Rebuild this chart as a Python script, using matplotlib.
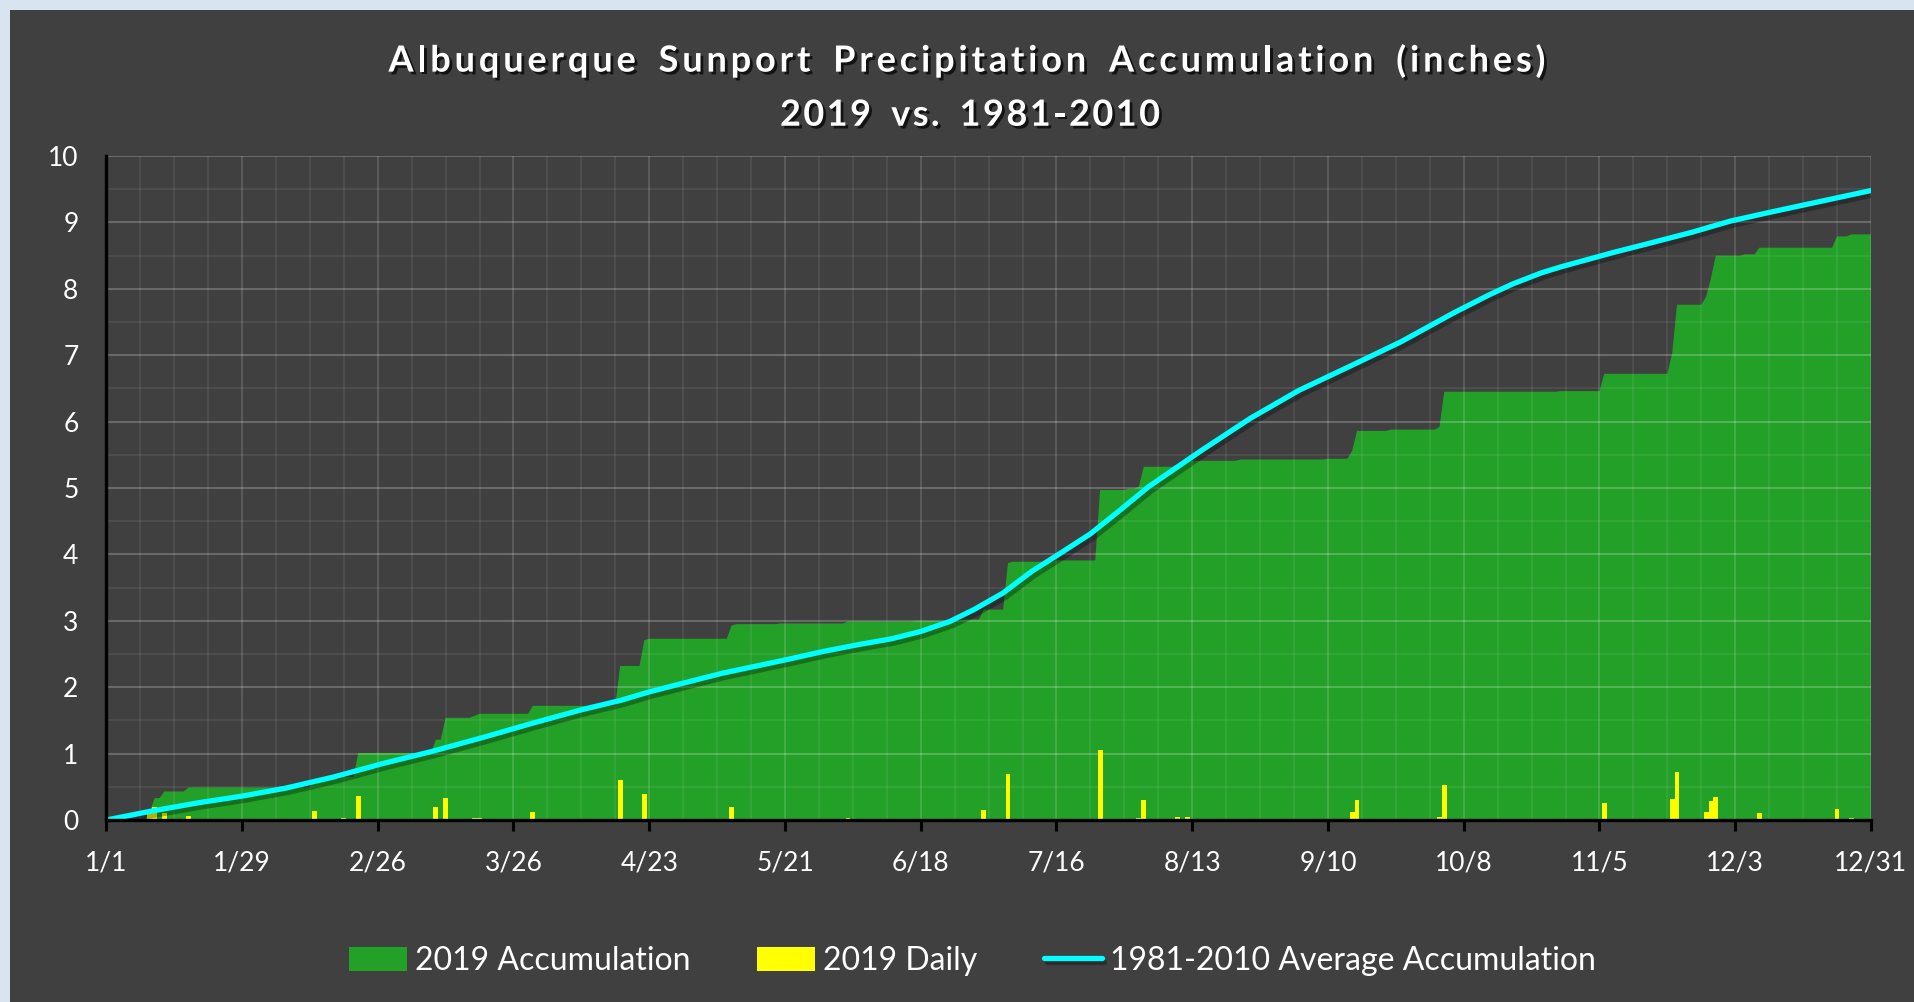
import numpy as np
import matplotlib
matplotlib.use("Agg")
import matplotlib.pyplot as plt
import matplotlib.patheffects as pe
from matplotlib.patches import Rectangle

plt.rcParams['font.family'] = ['Lato', 'DejaVu Sans']

# 2019 daily precipitation: day of year (1/1 = 0) and amount (inches)
rain_days = [0, 9, 10, 12, 17, 43, 49, 52, 68, 70, 76, 77, 88, 106, 111, 112,
             129, 130, 139, 153, 167, 177, 181, 186, 187, 196, 205, 211, 213,
             214, 221, 223, 234, 252, 257, 258, 265, 275, 276, 300, 309, 323,
             324, 330, 331, 332, 338, 341, 357, 360]
rain_amounts = [0.01, 0.12, 0.20, 0.10, 0.06, 0.13, 0.03, 0.36, 0.20, 0.33,
                0.03, 0.03, 0.12, 0.60, 0.39, 0.02, 0.20, 0.02, 0.01, 0.03,
                0.01, 0.02, 0.15, 0.70, 0.02, 0.02, 1.06, 0.02, 0.03, 0.30,
                0.04, 0.05, 0.02, 0.01, 0.12, 0.30, 0.02, 0.04, 0.53, 0.01,
                0.26, 0.31, 0.73, 0.12, 0.28, 0.34, 0.02, 0.10, 0.17, 0.03]

# 1981-2010 normal accumulation
normal_days = [0, 9, 19, 28, 37, 47, 57, 67, 78, 88, 98, 106, 112, 120, 127,
               140, 148, 155, 162, 168, 174, 179, 185, 191, 196, 203, 209, 215,
               226, 236, 246, 257, 267, 278, 285, 290, 296, 300, 305, 311, 318,
               327, 335, 343, 350, 364]
normal_accum = [0.0, 0.13, 0.26, 0.36, 0.48, 0.65, 0.85, 1.03, 1.25, 1.46,
                1.66, 1.80, 1.93, 2.08, 2.21, 2.41, 2.54, 2.64, 2.73, 2.84,
                2.99, 3.17, 3.42, 3.75, 3.98, 4.31, 4.66, 5.02, 5.57, 6.05,
                6.47, 6.85, 7.20, 7.64, 7.90, 8.07, 8.24, 8.33, 8.43, 8.55,
                8.68, 8.85, 9.02, 9.15, 9.26, 9.48]

tick_days = list(range(0, 365, 28))
tick_labels = ['1/1', '1/29', '2/26', '3/26', '4/23', '5/21', '6/18', '7/16',
               '8/13', '9/10', '10/8', '11/5', '12/3', '12/31']

title1 = 'Albuquerque Sunport Precipitation Accumulation (inches)'
title2 = '2019 vs. 1981-2010'

days = np.arange(365)
daily = np.zeros(365)
daily[rain_days] = rain_amounts
accum = np.cumsum(daily)

W, H = 1914, 1002
fig = plt.figure(figsize=(W / 100, H / 100), dpi=100, facecolor='#d9e4f1')
fig.add_artist(Rectangle((10 / W, 0), 1, 1 - 10 / H, transform=fig.transFigure,
                         facecolor='#404040', edgecolor='none', zorder=0))
ax = fig.add_axes([0.0555, 0.1816, 0.922, 0.6627])
ax.set_facecolor('#404040')

area = ax.fill_between(days, 0, accum, color='#23a027', lw=0, zorder=1)
area.set_path_effects([pe.SimplePatchShadow(offset=(3, -3), alpha=0.4), pe.Normal()])
bars = ax.bar(rain_days, rain_amounts, width=1.0, color='#ffff00', zorder=2)
line, = ax.plot(normal_days, normal_accum, color='#00ffff', lw=3.8, zorder=3,
                solid_capstyle='round', solid_joinstyle='round')
line.set_path_effects([pe.SimpleLineShadow(offset=(2, -3), alpha=0.3), pe.Normal()])

ax.set_xlim(0, 364)
ax.set_ylim(0, 10)
ax.set_xticks(tick_days)
ax.set_xticklabels(tick_labels)
ax.set_xticks(range(0, 365, 7), minor=True)
ax.set_yticks(range(0, 11))
ax.set_yticks(np.arange(0.5, 10, 1), minor=True)
ax.set_axisbelow('line')
ax.grid(which='major', axis='y', color='white', alpha=0.22, lw=1.5)
ax.grid(which='minor', axis='y', color='white', alpha=0.07, lw=1.5)
ax.grid(which='major', axis='x', color='white', alpha=0.14, lw=1.5)
ax.grid(which='minor', axis='x', color='white', alpha=0.07, lw=1.5)
ax.tick_params(which='minor', length=0)
ax.tick_params(axis='y', length=0, pad=20, labelsize=19, labelcolor='white')
ax.tick_params(axis='x', which='major', length=8, width=2.2, color='black',
               pad=14, labelsize=19, labelcolor='white')
for s in ['top', 'right']:
    ax.spines[s].set_visible(False)
for s in ['left', 'bottom']:
    ax.spines[s].set_color('black')
    ax.spines[s].set_linewidth(2.4)
    ax.spines[s].set_zorder(4)

# title drawn letter by letter to get the wide letter spacing of the original
shadow = [pe.withSimplePatchShadow(offset=(2, -2), shadow_rgbFace='black', alpha=0.7)]
renderer = fig.canvas.get_renderer()


def spaced_text(text, y, center_px, width_px, size=26):
    space_w = 0.42 * size * 100 / 72
    arts, widths = [], []
    for ch in text:
        if ch == ' ':
            arts.append(None)
            widths.append(space_w)
            continue
        t = fig.text(0, y, ch, ha='left', va='center', color='white', fontsize=size,
                     fontweight='bold', path_effects=shadow)
        arts.append(t)
        widths.append(t.get_window_extent(renderer).width)
    gap = (width_px - sum(widths)) / (len(text) - 1)
    x = center_px - width_px / 2
    for t, w in zip(arts, widths):
        if t is not None:
            t.set_x(x / W)
        x += w + gap


spaced_text(title1, 0.939, 967, 1157)
spaced_text(title2, 0.885, 970, 380)

fig.legend([area, bars, line], ['2019 Accumulation', '2019 Daily',
                                '1981-2010 Average Accumulation'],
           loc='center', bbox_to_anchor=(0.508, 0.041), ncol=3, frameon=False,
           fontsize=23, labelcolor='white', handlelength=1.8, handleheight=0.8,
           handletextpad=0.25, columnspacing=2.1)

fig.savefig('out.png', dpi=100, facecolor=fig.get_facecolor())
